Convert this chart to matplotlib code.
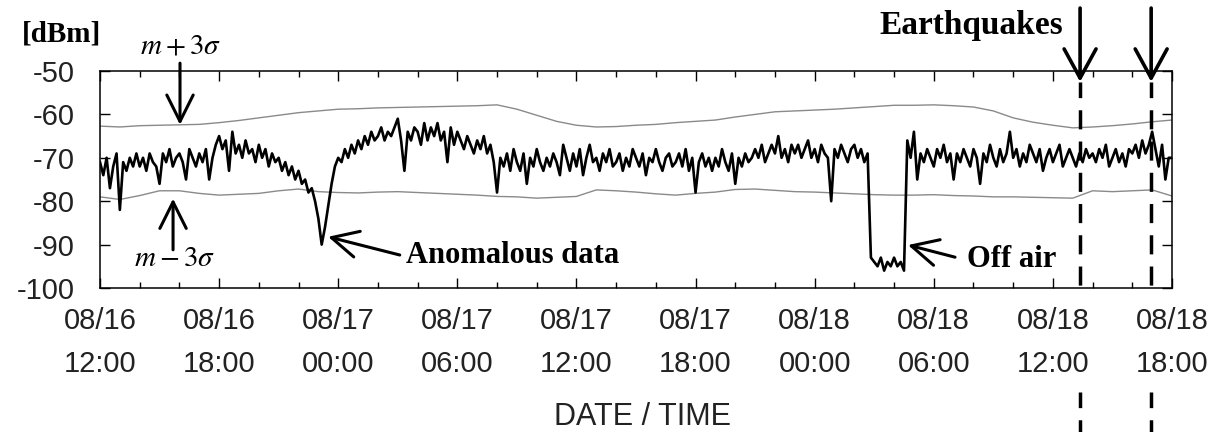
import numpy as np
import matplotlib
matplotlib.use('Agg')
import matplotlib.pyplot as plt

plt.rcParams['font.family'] = ['Liberation Sans', 'DejaVu Sans']
plt.rcParams['axes.unicode_minus'] = False
plt.rcParams['mathtext.fontset'] = 'stix'

# received level [dBm], one value every 10 min from 08/16 12:00
signal = [
    -71, -74, -70, -77, -72, -69,
    -82, -71, -73, -70, -72, -69,
    -72, -70, -73, -69, -71, -72,
    -76, -69, -71, -68, -72, -70,
    -69, -71, -75, -68, -70, -72,
    -69, -71, -68, -75, -70, -67,
    -65, -68, -66, -73, -64, -69,
    -67, -70, -66, -69, -68, -71,
    -67, -70, -68, -72, -69, -71,
    -70, -73, -71, -74, -72, -75,
    -73, -76, -75, -78, -77, -80,
    -84, -90, -86, -81, -76, -72,
    -70, -71, -68, -70, -67, -69,
    -66, -68, -65, -67, -64, -66,
    -65, -63, -66, -64, -65, -63,
    -61, -66, -73, -64, -66, -63,
    -64, -67, -62, -66, -63, -65,
    -62, -66, -64, -71, -63, -67,
    -64, -66, -68, -65, -67, -69,
    -66, -68, -65, -69, -67, -71,
    -78, -70, -72, -69, -73, -68,
    -71, -73, -69, -76, -70, -72,
    -68, -71, -73, -70, -72, -69,
    -71, -74, -67, -70, -73, -69,
    -72, -68, -74, -70, -67, -71,
    -70, -73, -69, -71, -68, -72,
    -71, -69, -73, -70, -72, -68,
    -70, -72, -69, -74, -70, -71,
    -68, -71, -73, -70, -69, -72,
    -71, -69, -72, -68, -73, -70,
    -78, -71, -69, -72, -70, -73,
    -70, -72, -68, -71, -73, -69,
    -76, -70, -72, -69, -71, -70,
    -68, -70, -67, -71, -69, -67,
    -69, -65, -70, -68, -71, -67,
    -69, -67, -70, -68, -66, -70,
    -68, -71, -67, -69, -70, -80,
    -68, -70, -67, -69, -71, -68,
    -67, -70, -68, -71, -69, -93,
    -94, -95, -93, -96, -94, -95,
    -93, -95, -94, -96, -66, -70,
    -64, -75, -69, -71, -68, -70,
    -72, -68, -70, -67, -71, -69,
    -75, -69, -71, -68, -70, -72,
    -68, -70, -76, -69, -71, -67,
    -70, -72, -68, -71, -69, -64,
    -70, -68, -72, -69, -71, -67,
    -69, -71, -68, -73, -70, -68,
    -71, -69, -67, -72, -70, -68,
    -70, -72, -69, -71, -68, -70,
    -69, -71, -68, -70, -67, -72,
    -70, -68, -71, -69, -72, -68,
    -69, -67, -70, -66, -69, -67,
    -64, -68, -72, -67, -75, -70,
    -70,
]

# m + 3 sigma and m - 3 sigma, hourly
upper = [-62.7, -62.9, -62.6, -62.5, -62.4, -62.3, -61.9, -61.4, -60.8, -60.2,
         -59.6, -59.2, -58.8, -58.7, -58.5, -58.4, -58.3, -58.2, -58.1, -58.0,
         -57.8, -58.8, -60.2, -61.6, -62.5, -62.9, -62.8, -62.5, -62.3, -61.9,
         -61.6, -61.3, -60.6, -60.0, -59.4, -59.2, -59.0, -58.8, -58.5, -58.2,
         -57.9, -57.9, -57.8, -58.0, -58.3, -59.2, -60.8, -61.8, -62.5, -63.1,
         -62.9, -62.6, -62.2, -61.7, -61.3]
lower = [-79.0, -79.6, -78.7, -77.6, -77.6, -78.2, -78.6, -78.4, -78.2, -77.6,
         -77.2, -77.8, -78.0, -78.1, -77.9, -77.8, -78.0, -78.2, -78.4, -78.6,
         -78.9, -79.0, -79.3, -79.1, -78.9, -77.4, -77.6, -77.9, -78.3, -78.6,
         -78.2, -77.9, -77.3, -77.2, -77.5, -77.8, -77.9, -78.1, -78.3, -78.5,
         -78.6, -78.6, -78.5, -78.7, -78.8, -79.0, -79.0, -79.1, -79.2, -79.3,
         -77.6, -77.8, -77.6, -77.4, -78.8]

xtick_hours = [0, 6, 12, 18, 24, 30, 36, 42, 48, 54]
xtick_labels = ['08/16\n12:00', '08/16\n18:00', '08/17\n00:00', '08/17\n06:00',
                '08/17\n12:00', '08/17\n18:00', '08/18\n00:00', '08/18\n06:00',
                '08/18\n12:00', '08/18\n18:00']
yticks = [-100, -90, -80, -70, -60, -50]
quake_hours = [49.37, 52.95]

t_sig = np.arange(len(signal)) / 6.0
t_hr = np.arange(len(upper))

fig = plt.figure(figsize=(12.17, 4.32), dpi=100)
ax = fig.add_axes([100 / 1217, 1 - 288 / 432, 1072 / 1217, 217 / 432])

ax.plot(t_hr, upper, color='#8a8a8a', lw=1.0)
ax.plot(t_hr, lower, color='#8a8a8a', lw=1.0)
ax.plot(t_sig, signal, color='black', lw=1.9)

ax.set_xlim(0, 54)
ax.set_ylim(-100, -50)
ax.set_xticks(xtick_hours)
ax.set_xticklabels(xtick_labels)
ax.set_xticks(np.arange(0, 55, 2), minor=True)
ax.set_yticks(yticks)
ax.set_yticklabels([str(v) for v in yticks])
for sp in ax.spines.values():
    sp.set_linewidth(1.1)
ax.tick_params(which='both', direction='in', top=True, right=True, width=1.0)
ax.tick_params(axis='x', which='major', length=7, pad=14, labelsize=21, labelcolor='#222222')
ax.tick_params(axis='x', which='minor', length=4)
ax.tick_params(axis='y', length=7, pad=18, labelsize=21, labelcolor='#222222')
for lbl in ax.get_xticklabels():
    lbl.set_linespacing(1.65)

ax.text(0.5065, -0.631, 'DATE / TIME', transform=ax.transAxes, ha='center',
        va='baseline', fontsize=22, color='#222222')
ax.text(-3.93, -43.1, '[dBm]', ha='left', va='baseline', fontsize=21,
        fontweight='bold', family='Liberation Serif')

serif_bold = dict(fontsize=22, fontweight='bold', family='Liberation Serif')
arrow = dict(arrowstyle='->,head_length=1.9,head_width=0.95', lw=2.2, color='black',
             shrinkA=0, shrinkB=0)

ax.text(4.08, -44.2, r'$m+3\sigma$', ha='center', va='center', fontsize=21)
ax.annotate('', xy=(4.03, -62.4), xytext=(4.03, -48.2), arrowprops=arrow,
            annotation_clip=False)
ax.text(3.78, -93.0, r'$m-3\sigma$', ha='center', va='center', fontsize=21)
ax.annotate('', xy=(3.68, -79.4), xytext=(3.68, -91.2), arrowprops=arrow,
            annotation_clip=False)

ax.annotate('', xy=(11.49, -88.2), xytext=(15.1, -92.4), arrowprops=arrow)
ax.text(15.4, -94.2, 'Anomalous data', ha='left', va='baseline', **serif_bold)
ax.annotate('', xy=(40.7, -90.1), xytext=(43.07, -92.9), arrowprops=arrow)
ax.text(43.68, -95.2, 'Off air', ha='left', va='baseline', **serif_bold)

ax.text(48.5, -41.5, 'Earthquakes', ha='right', va='baseline', fontsize=24,
        fontweight='bold', family='Liberation Serif')
quake_arrow = dict(arrowstyle='->,head_length=2.1,head_width=1.15', lw=2.6,
                   color='black', shrinkA=0, shrinkB=0)
for h in quake_hours:
    ax.annotate('', xy=(h, -52.5), xytext=(h, -35.5), arrowprops=quake_arrow,
                annotation_clip=False)
    ax.plot([h, h], [-52.5, -100], color='black', lw=2.5,
            linestyle=(1, (5.5, 3.5)), clip_on=False)
    ax.plot([h, h], [-124.0, -136], color='black', lw=2.5,
            linestyle=(0, (4.5, 3.5)), clip_on=False)

fig.savefig('out.png', dpi=100)
